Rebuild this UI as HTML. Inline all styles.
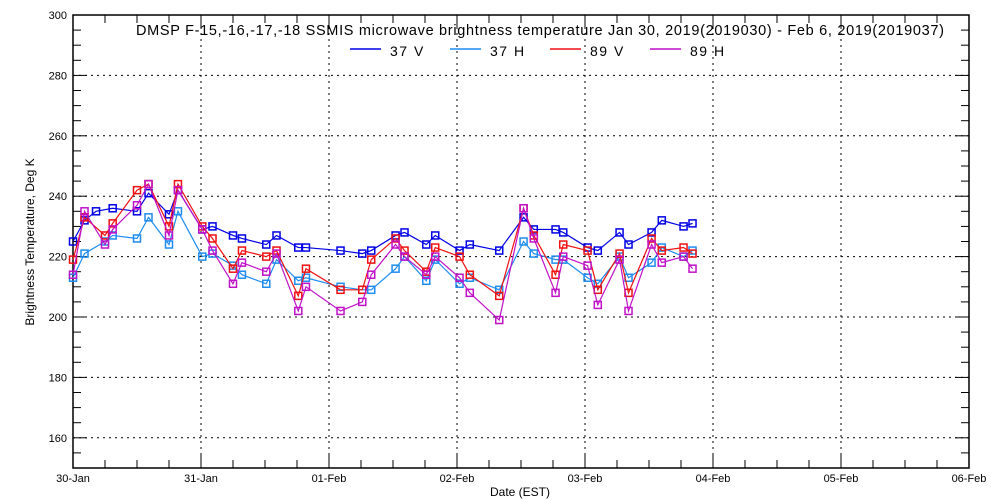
<!DOCTYPE html>
<html><head><meta charset="utf-8"><style>
body{margin:0;background:#fff}
svg{display:block;font-family:"Liberation Sans",sans-serif}
</style></head><body>
<svg id="c" width="1000" height="500"></svg>
<script>
const times=[0,.09,.25,.31,.5,.59,.75,.82,1.01,1.09,1.25,1.32,1.51,1.59,1.76,1.82,2.09,2.26,2.33,2.52,2.59,2.76,2.83,3.02,3.1,3.33,3.52,3.6,3.77,3.83,4.02,4.1,4.27,4.34,4.52,4.6,4.77,4.84];
const times37V=[0,.09,.18,.31,.5,.59,.75,.82,1.01,1.09,1.25,1.32,1.51,1.59,1.76,1.82,2.09,2.26,2.33,2.52,2.59,2.76,2.83,3.02,3.1,3.33,3.52,3.6,3.77,3.83,4.02,4.1,4.27,4.34,4.52,4.6,4.77,4.84];
const v37V=[225,232,235,236,235,241,234,242,229,230,227,226,224,227,223,223,222,221,222,227,228,224,227,222,224,222,233,229,229,228,223,222,228,224,228,232,230,231];
const v37H=[213,221,225,227,226,233,224,235,220,221,217,214,211,219,212,213,210,209,209,216,220,212,219,211,213,209,225,221,219,219,213,211,220,213,218,223,220,222];
const v89V=[219,233,227,231,242,244,230,244,230,226,216,222,220,222,207,216,209,209,219,226,222,215,223,220,214,207,236,227,214,224,222,209,221,208,226,222,223,221];
const v89H=[214,235,224,229,237,244,227,242,229,222,211,218,215,221,202,210,202,205,214,224,220,214,220,213,208,199,236,226,208,220,217,204,219,202,224,218,220,216];
const yTicks=[160,180,200,220,240,260,280,300];
const xLabels=["30-Jan","31-Jan","01-Feb","02-Feb","03-Feb","04-Feb","05-Feb","06-Feb"];
const seriesNames=["37 V","37 H","89 V","89 H"];
const colors=["#0000e6","#1e8cf0","#f01010","#c010c8"];

const L=73,R=969,T=15,B=468,Y0=150,Y1=300,D=7;
const X=d=>L+d*(R-L)/D, Y=v=>B-(v-Y0)*(B-T)/(Y1-Y0);
const svg=document.getElementById('c'),NS='http://www.w3.org/2000/svg';
function mk(t,a,p){const e=document.createElementNS(NS,t);for(const k in a)e.setAttribute(k,a[k]);(p||svg).appendChild(e);return e;}
yTicks.forEach(v=>{if(v>Y0&&v<Y1){const g=mk('line',{x1:L,x2:R,y1:Y(v),y2:Y(v),stroke:'#000','stroke-dasharray':'2,4','stroke-width':1});

}});
xLabels.forEach((s,i)=>{if(i>0&&i<D){const g=mk('line',{x1:X(i),x2:X(i),y1:T,y2:B,stroke:'#000','stroke-dasharray':'2,4','stroke-width':1});

}});
for(let v=Y0;v<=Y1;v+=5){const len=(v%20==0)?14:8;
mk('line',{x1:L,x2:L+len,y1:Y(v),y2:Y(v),stroke:'#000'});mk('line',{x1:R-len,x2:R,y1:Y(v),y2:Y(v),stroke:'#000'});}
for(let d=0;d<=D;d+=0.25){const len=(d%1==0)?14:8;
mk('line',{x1:X(d),x2:X(d),y1:B-len,y2:B,stroke:'#000'});mk('line',{x1:X(d),x2:X(d),y1:T,y2:T+len,stroke:'#000'});}
const fr=mk('rect',{x:L,y:T,width:R-L,height:B-T,fill:'none',stroke:'#000','stroke-width':1.5});


yTicks.forEach(v=>{const t=mk('text',{x:L-6,y:Y(v)+4,'text-anchor':'end','font-size':11});t.textContent=v;

});
xLabels.forEach((s,i)=>{const t=mk('text',{x:X(i),y:482,'text-anchor':'middle','font-size':11});t.textContent=s;

});
let t=mk('text',{x:520,y:496,'text-anchor':'middle','font-size':12});t.textContent='Date (EST)';


t=mk('text',{x:34,y:242,'text-anchor':'middle','font-size':12,transform:'rotate(-90 34 242)'});t.textContent='Brightness Temperature, Deg K';


t=mk('text',{x:136,y:35,'font-size':14.5,textLength:808,lengthAdjust:'spacing'});t.textContent='DMSP F-15,-16,-17,-18 SSMIS microwave brightness temperature Jan 30, 2019(2019030) - Feb  6, 2019(2019037)';


const sets=[[times37V,v37V],[times,v37H],[times,v89V],[times,v89H]];
sets.forEach((s,k)=>{const [tt,vv]=s;
const pl=mk('polyline',{points:tt.map((d,i)=>X(d)+','+Y(vv[i])).join(' '),fill:'none',stroke:colors[k],'stroke-width':1.2});


tt.forEach((d,i)=>{const m=mk('rect',{x:X(d)-3.5,y:Y(vv[i])-3.5,width:7,height:7,fill:'none',stroke:colors[k],'stroke-width':1.5});

});
const lx=350+k*100;
const ll=mk('line',{x1:lx,x2:lx+31,y1:49,y2:49,stroke:colors[k],'stroke-width':1.5});


const lt=mk('text',{x:lx+40,y:56,'font-size':14,'letter-spacing':'1.5'});lt.textContent=seriesNames[k];


});
</script>
</body></html>
